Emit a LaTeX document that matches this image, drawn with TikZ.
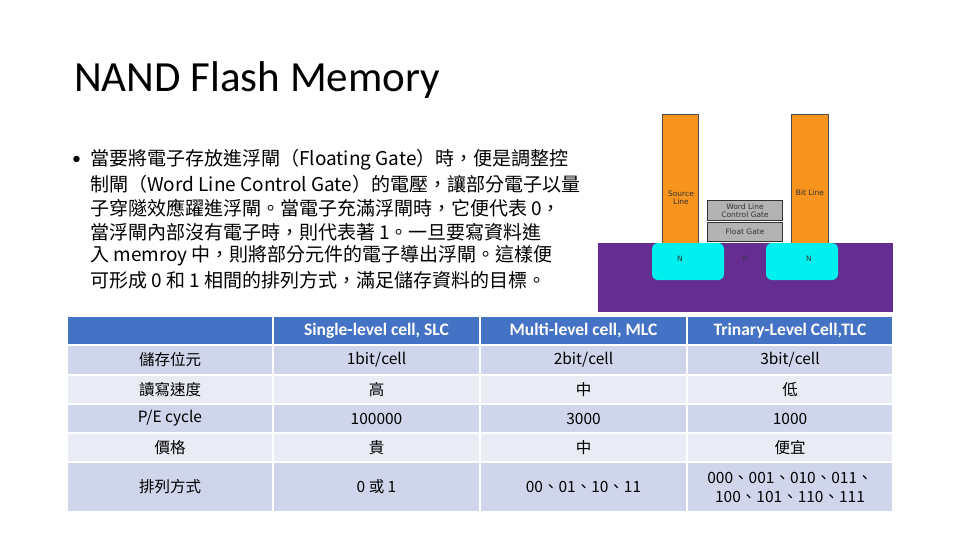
\documentclass[tikz,border=0pt]{standalone}
\usepackage{fontspec}
\setmainfont{Carlito}
\newfontfamily\cjk{Noto Sans CJK TC}
\newfontfamily\dejas{DejaVu Sans}
\definecolor{hdr}{HTML}{4472C4}
\definecolor{rowa}{HTML}{CFD5EA}
\definecolor{rowb}{HTML}{E9EBF5}
\definecolor{orng}{HTML}{F7941D}
\definecolor{purp}{HTML}{662D91}
\definecolor{cyanr}{HTML}{00F0F0}
\definecolor{gatec}{HTML}{B3B3B3}
\tikzset{cell/.style={draw=white,line width=1.5pt},
 ctext/.style={font=\fontsize{15.5}{19}\selectfont\cjk,align=center},
 btext/.style={font=\fontsize{19}{20}\selectfont\cjk,anchor=west,inner sep=0pt},
 small/.style={font=\fontsize{7.5}{8}\selectfont\dejas,align=center,text=black!80}}
\begin{document}
\begin{tikzpicture}[x=1pt,y=-1pt]
\useasboundingbox (0,0) rectangle (960,540);
\node[anchor=west,inner sep=0pt,font=\fontsize{43}{46}\selectfont] (title) at (74,80) {NAND Flash Memory};
\node[anchor=west,inner sep=0pt,font=\fontsize{18}{20}\selectfont] (bul) at (72,160) {•};
\foreach \t [count=\i] in {當要將電子存放進浮閘（Floating Gate）時，便是調整控,制閘（Word Line Control Gate）的電壓，讓部分電子以量,子穿隧效應躍進浮閘。當電子充滿浮閘時，它便代表 0，,當浮閘內部沒有電子時，則代表著 1。一旦要寫資料進,入 memroy 中，則將部分元件的電子導出浮閘。這樣便,可形成 0 和 1 相間的排列方式，滿足儲存資料的目標。}
  \node[btext] (l\i) at (90,136+24*\i) {\t};
% device
\fill[purp] (598,243) rectangle (893,312);
\fill[orng,draw=gray!60!black,line width=0.3pt] (662,114) rectangle (698,243);
\fill[orng,draw=gray!60!black,line width=0.3pt] (791,114) rectangle (828,243);
\fill[cyanr,rounded corners=6pt] (652,243) -- (652,280) -- (724,280) -- (724,243) -- cycle;
\fill[cyanr,rounded corners=6pt] (766,243) -- (766,280) -- (838,280) -- (838,243) -- cycle;
\node[small] (sl) at (681,198) {Source\\Line};
\node[small] (bl) at (810,193) {Bit Line};
\node[draw=gray!40!black,fill=gatec,minimum width=75pt,minimum height=20pt,small,inner sep=0pt] (wl) at (745,210.5) {Word Line\\Control Gate};
\node[draw=gray!40!black,fill=gatec,minimum width=75pt,minimum height=19pt,small,inner sep=0pt] (fg) at (745,231.5) {Float Gate};
\node[small] (n1) at (680,259) {N};
\node[small] (p) at (745,259) {P};
\node[small] (n2) at (809,259) {N};
% table
\foreach \ya/\yb/\c in {316/345/hdr,345/375/rowa,375/404/rowb,404/433/rowa,433/462/rowb,462/512/rowa}{
 \foreach \xl/\xr in {67/273,273/480,480/687,687/893}
  \draw[cell,fill=\c] (\xl,\ya) rectangle (\xr,\yb);}
\tikzset{hd/.style={font=\fontsize{17.5}{18}\selectfont\bfseries,text=white}}
\node[hd] (h1) at (376.5,331) {Single-level cell, SLC};
\node[hd] (h2) at (583.5,331) {Multi-level cell, MLC};
\node[hd] (h3) at (790,331) {Trinary-Level Cell,TLC};
\foreach \y/\a/\b/\c/\d [count=\r] in {360/儲存位元/1bit\slash cell/2bit\slash cell/3bit\slash cell,389.5/讀寫速度/高/中/低,418.5/P\slash E cycle/100000/3000/1000,447.5/價格/貴/中/便宜,487/排列方式/0 或 1/00、01、10、11/{000、001、010、011、\\100、101、110、111}}{
 \node[ctext] (c\r a) at (170,\y) {\a};
 \node[ctext] (c\r b) at (376.5,\y) {\b};
 \node[ctext] (c\r c) at (583.5,\y) {\c};
 \node[ctext] (c\r d) at (790,\y) {\d};}
\end{tikzpicture}
\end{document}
